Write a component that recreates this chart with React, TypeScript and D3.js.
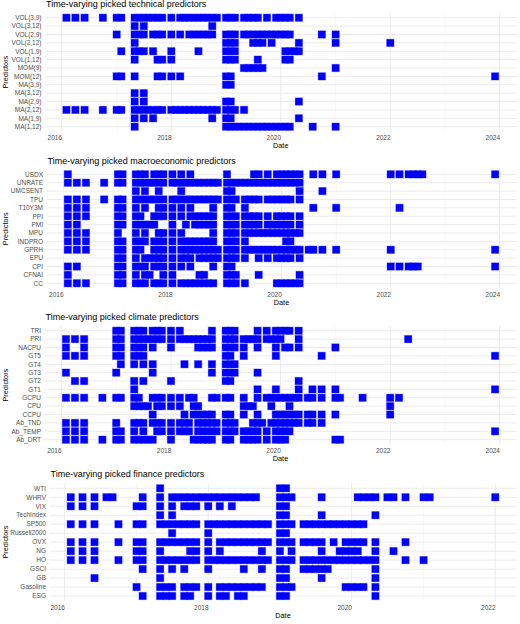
import React from "react";
import * as d3 from "d3";

// Picks are month offsets counted from January 2016 (0 = 2016-01); "a-b" is a run of consecutive monthly picks.
const BASE_YEAR = 2016;

const technicalNames = ["VOL(3,9)", "VOL(3,12)", "VOL(2,9)", "VOL(2,12)", "VOL(1,9)", "VOL(1,12)", "MOM(9)", "MOM(12)", "MA(3,9)", "MA(3,12)", "MA(2,9)", "MA(2,12)", "MA(1,9)", "MA(1,12)"];
const technicalPicks = [
  "1,3,5,9,12-13,16-22,24,26-34,36-38,40-43,45,47-50,52",
  "16,18,33",
  "12,16-18,20-22,24,26,28-33,36-38,40-50,57,60",
  "16,36-38,42-44,46,52,60,72",
  "13,16-18,20,24,30,36-38,49-52",
  "16,21-22,24,36-38,43,49-50",
  "40-44,60",
  "12-13,16,21-22,24,26,36-37,57,95",
  "36-37",
  "16,18",
  "16,18,36-37,52",
  "1,3,5,9,12-13,16-22,24-34,36-38,40",
  "16,18,20,33,36-37,52",
  "16,36-50,55,60",
];

const macroNames = ["USDX", "UNRATE", "UMCSENT", "TPU", "T10Y3M", "PPI", "PMI", "MPU", "INDPRO", "GPRH", "EPU", "CPI", "CFNAI", "CC"];
const macroPicks = [
  "1,12-13,16-18,20-22,24,26,28,36,42-43,45,47-52,55,57,60,72,74,76-79,95",
  "1,3,5,9,12-13,16-22,24-34,36-52",
  "16,18,21,26,36-37,52,57",
  "1,3,5,9,12-13,16-22,24-34,36-38,40-43,45-50,52",
  "1,3,5,12-13,16,18,21-22,24,26,28,33,36-37,40,55,60,74",
  "1,3,5,12-13,16-17,20-22,24,26,28-33,36-38,40-43,45,47-50,52",
  "1,3,12-13,16-20,24,27,29-33,36-38,40-43,45-50,52",
  "1,3,5,12,16,18,21-22,24,26,33,36-38,40-52",
  "1,3,5,12-13,16-18,20-22,24,26-33,36-38,40,49-50",
  "1,3,5,12-13,16-17,20-22,24,26-34,36-38,40-52,54-55,57,60,72,95",
  "12-13,16,18-22,24,26-28,30-34,36-38,40,43,45,47-50,52",
  "1,3,12-13,16-18,20-22,24,26,28,33,36-37,72,74,76-78,95",
  "1,12-13,16,18-19,22,24,30-31,36-38,43,52",
  "1,3,5,12-13,16-18,20-22,24,26-33,36-38,40,47-52",
];

const climateNames = ["TRI", "PRI", "NACPU", "GT5", "GT4", "GT3", "GT2", "GT1", "GCPU", "CPU", "CCPU", "Ab_TND", "Ab_TEMP", "Ab_DRT"];
const climatePicks = [
  "12-13,16-18,20-22,24,26,33,36-38,43,45,47-50,52",
  "1,3,5,12-13,16-22,24,26-33,36-38,40-43,45-48,52,76",
  "1,5,12-13,16-18,20,24,30-33,36-38,40,43,47,49-50,52,60",
  "1,3,5,12-13,16-18,36-37,40,47,57,95",
  "13,16,18,20,27,30,33,36-38",
  "1,12,20,33,36-38,43",
  "3,5,16,18,24,36-37,52",
  "16,43,47,52,55,57,60,95",
  "1,3,5,9,12-13,16-17,20-22,24,26,28-29,33-34,36-37,40,43,45-52,54-55,57,60-61,66,72,74",
  "16-19,21-22,24,26,29-30,40-42,46,50,72",
  "20,27,29-33,36-37,40,43,47-52,54-55,57,60,72",
  "1,3,5,12,16-18,20-22,24,26-28,30-34,36-38,42-44,46-52,54-55,57",
  "1,3,5,12-13,16,18,21-22,24,26-28,30-34,36-38,40-43,45,47-50,95",
  "1,3,5,9,12-13,16-20,24,29-33,36-37,40-43,45,47-49,60-61",
];

const financeNames = ["WTI", "WHRV", "VIX", "TechIndex", "SP500", "Russell2000", "OVX", "NG", "HO", "GSCI", "GB", "Gasoline", "ESG"];
const financePicks = [
  "16,36-37",
  "1,3,5,7-8,13,16,18-32,36-38,43,49-52,54-55,57,60-61,72",
  "1,3,5,12-13,16,18,20-22,24,26,28,36-37",
  "16,18,36-37,43,52",
  "1,3,5,9,12-13,16-22,24-34,36-38,40-50",
  "18,24,36-37",
  "1,3,5,9,12-13,16-22,24,26-34,36-38,40-43,45,47-50,52,57",
  "1,3,5,12-13,16,21-22,24,26,33,36,38,43,46-49,52,55",
  "1,3,5,9,12-13,16-22,24-34,36-38,40-52,57,60",
  "13,16,18,20,24,30,33,36-37,40-44,52",
  "5,16,36-37,43,52",
  "12,16-18,20-22,24,26-33,36-38,47-50,52",
  "13,16-18,20-21,24,26-27,29-30,36-37,52",
];

const titles = [
  "Time-varying picked technical predictors",
  "Time-varying picked macroeconomic predictors",
  "Time-varying picked climate predictors",
  "Time-varying picked finance predictors",
];

function parsePicks(s: string): number[] {
  const out: number[] = [];
  s.split(",").forEach((part) => {
    const [a, b] = part.split("-").map(Number);
    const end = b === undefined ? a : b;
    for (let m = a; m <= end; m++) out.push(m);
  });
  return out;
}
const monthDate = (m: number) => new Date(BASE_YEAR, m, 1);

const W = 520;
const H = 624;
const PLOT_RIGHT = 516.5;
const TILE = 7.2;
const FONT = "'Liberation Sans', Arial, Helvetica, sans-serif";

const layout = [
  { left: 45, top: 12.7, bottom: 131.7 },
  { left: 46.5, top: 169.3, bottom: 288.3 },
  { left: 44.5, top: 325.7, bottom: 444.7 },
  { left: 49.5, top: 482.9, bottom: 601.4 },
];
const panelData = [
  { names: technicalNames, picks: technicalPicks },
  { names: macroNames, picks: macroPicks },
  { names: climateNames, picks: climatePicks },
  { names: financeNames, picks: financePicks },
];

function Panel({ idx }: { idx: number }) {
  const { names, picks } = panelData[idx];
  const { left, top, bottom } = layout[idx];
  const points = names.flatMap((name, i) =>
    parsePicks(picks[i]).map((m) => ({ name, date: monthDate(m) }))
  );
  const ext = d3.extent(points, (d) => d.date.getTime()) as [number, number];
  const pad = (ext[1] - ext[0]) * 0.05;
  const x = d3
    .scaleTime()
    .domain([new Date(ext[0] - pad), new Date(ext[1] + pad)])
    .range([left, PLOT_RIGHT]);
  const y = d3.scalePoint<string>().domain(names).range([top, bottom]).padding(0.6);
  const major = x.ticks(d3.timeYear.every(2) as any);
  const minor = x
    .ticks(d3.timeYear.every(1) as any)
    .filter((d) => d.getFullYear() % 2 === 1);
  const cx = (left + PLOT_RIGHT) / 2;
  return (
    <g>
      <text x={left + 1} y={top - 5.5} fontSize={9} fill="#000" fontFamily={FONT}>
        {titles[idx]}
      </text>
      {minor.map((d, i) => (
        <line key={"mi" + i} x1={x(d)} x2={x(d)} y1={top} y2={bottom} stroke="#f3f3f3" strokeWidth={0.6} />
      ))}
      {major.map((d, i) => (
        <line key={"ma" + i} x1={x(d)} x2={x(d)} y1={top} y2={bottom} stroke="#ebebeb" strokeWidth={1} />
      ))}
      {names.map((n) => (
        <line key={"h" + n} x1={left} x2={PLOT_RIGHT} y1={y(n)} y2={y(n)} stroke="#ebebeb" strokeWidth={1} />
      ))}
      {points.map((p, i) => (
        <rect
          key={"o" + i}
          x={x(p.date) - TILE / 2}
          y={(y(p.name) as number) - TILE / 2}
          width={TILE}
          height={TILE}
          fill="#0000ff"
          stroke="#9a9aff"
          strokeWidth={1}
        />
      ))}
      {points.map((p, i) => (
        <rect
          key={"f" + i}
          x={x(p.date) - TILE / 2}
          y={(y(p.name) as number) - TILE / 2}
          width={TILE}
          height={TILE}
          fill="#0000ff"
        />
      ))}
      {names.map((n) => (
        <text
          key={"yl" + n}
          x={left - 3.5}
          y={y(n)}
          dy="0.35em"
          textAnchor="end"
          fontSize={6.5}
          fill="#4d4d4d"
          fontFamily={FONT}
        >
          {n}
        </text>
      ))}
      {major.map((d, i) => (
        <text
          key={"xl" + i}
          x={x(d) + 0.3}
          y={bottom + 8.3}
          textAnchor="end"
          fontSize={6.5}
          fill="#4d4d4d"
          fontFamily={FONT}
        >
          {d3.timeFormat("%Y")(d)}
        </text>
      ))}
      <text x={cx} y={bottom + 16.3} textAnchor="middle" fontSize={7.3} fill="#000" fontFamily={FONT}>
        Date
      </text>
      <text
        transform={`translate(8.3,${(top + bottom) / 2}) rotate(-90)`}
        textAnchor="middle"
        fontSize={7.3}
        fill="#000"
        fontFamily={FONT}
      >
        Predictors
      </text>
    </g>
  );
}

export default function App() {
  return (
    <svg
      width={W}
      height={H}
      viewBox={`0 0 ${W} ${H}`}
      style={{ position: "absolute", left: 0, top: 0, background: "#fff" }}
    >
      <rect x={0} y={0} width={W} height={H} fill="#fff" />
      {[0, 1, 2, 3].map((i) => (
        <Panel key={i} idx={i} />
      ))}
    </svg>
  );
}
